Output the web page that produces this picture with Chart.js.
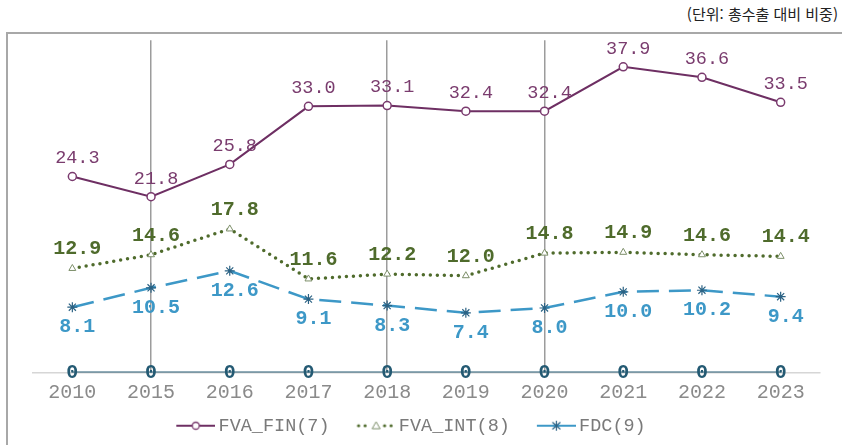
<!DOCTYPE html>
<html lang="ko">
<head>
<meta charset="UTF-8">
<title>FVA 비중</title>
<script src="https://cdn.jsdelivr.net/npm/chart.js"></script>
<style>
  body { margin: 0; width: 842px; height: 445px; background: #fff; position: relative; overflow: hidden; }
  #unit { position: absolute; right: 4px; top: 3px; line-height: 22px; font-family: "Noto Sans CJK KR", sans-serif; font-size: 15px; color: #222; }
  #frame { position: absolute; left: 6px; top: 32px; width: 834px; height: 411px; border-top: 2px solid #a8a8a8; border-left: 2px solid #a8a8a8; }
</style>
</head>
<body>
<div id="unit">(단위: 총수출 대비 비중)</div>
<div id="frame"><canvas id="chart"></canvas></div>
<script>
// 데이터
const years = ['2010', '2015', '2016', '2017', '2018', '2019', '2020', '2021', '2022', '2023'];
const fvaFin = [24.3, 21.8, 25.8, 33.0, 33.1, 32.4, 32.4, 37.9, 36.6, 33.5];
const fvaInt = [12.9, 14.6, 17.8, 11.6, 12.2, 12.0, 14.8, 14.9, 14.6, 14.4];
const fdc = [8.1, 10.5, 12.6, 9.1, 8.3, 7.4, 8.0, 10.0, 10.2, 9.4];
const zeroLine = [0, 0, 0, 0, 0, 0, 0, 0, 0, 0];
const seriesNames = ['FVA_FIN(7)', 'FVA_INT(8)', 'FDC(9)'];
const gridYears = ['2015', '2018', '2020'];

const MONO = '"Liberation Mono", "DejaVu Sans Mono", monospace';

// 범례 아이콘 (선 + 마커)
function makeIcon(kind) {
    const c = document.createElement('canvas');
    c.width = 62; c.height = 14;
    const g = c.getContext('2d');
    const x0 = 23, x1 = 62, cx = 42.5, cy = 7;
    if (kind === 'fin') {
        g.strokeStyle = '#6e2f63'; g.lineWidth = 2;
        g.beginPath(); g.moveTo(x0, cy); g.lineTo(x1, cy); g.stroke();
        g.fillStyle = '#fff'; g.strokeStyle = '#7a3a6e'; g.lineWidth = 1.3;
        g.beginPath(); g.arc(cx, cy, 3.5, 0, Math.PI * 2); g.fill(); g.stroke();
    } else if (kind === 'int') {
        g.fillStyle = '#4f6b2c';
        for (let x = x0 + 2; x < x1; x += 6.5) {
            if (Math.abs(x - cx) < 5) continue;
            g.beginPath(); g.arc(x, cy, 1.6, 0, Math.PI * 2); g.fill();
        }
        g.strokeStyle = '#7d8f6a'; g.lineWidth = 1;
        g.beginPath(); g.moveTo(cx, cy - 4); g.lineTo(cx + 4, cy + 3); g.lineTo(cx - 4, cy + 3); g.closePath(); g.stroke();
    } else {
        g.strokeStyle = '#3d98c7'; g.lineWidth = 2;
        g.beginPath(); g.moveTo(x0, cy); g.lineTo(x1, cy); g.stroke();
        g.strokeStyle = '#2b6284'; g.lineWidth = 1.2;
        g.beginPath();
        g.moveTo(cx, cy - 5); g.lineTo(cx, cy + 5);
        g.moveTo(cx - 4, cy - 3.5); g.lineTo(cx + 4, cy + 3.5);
        g.moveTo(cx + 4, cy - 3.5); g.lineTo(cx - 4, cy + 3.5);
        g.stroke();
    }
    return c;
}
const icons = [makeIcon('fin'), makeIcon('int'), makeIcon('fdc')];

// 값 라벨
const valueLabels = {
    id: 'valueLabels',
    afterDatasetsDraw(chart) {
        const ctx = chart.ctx;
        chart.data.datasets.forEach((ds, i) => {
            const lab = ds.valueLabel;
            const meta = chart.getDatasetMeta(i);
            if (!lab || meta.hidden) return;
            ctx.save();
            ctx.font = lab.font;
            ctx.fillStyle = lab.color;
            ctx.textAlign = 'center';
            ctx.textBaseline = 'middle';
            meta.data.forEach((pt, j) => {
                ctx.fillText(lab.fmt(ds.data[j]), pt.x + lab.dx, pt.y + lab.dy);
            });
            ctx.restore();
        });
    }
};

// 범례 위치 조정
const shiftLegend = {
    id: 'shiftLegend',
    afterLayout(chart) {
        const lg = chart.legend;
        if (!lg) return;
        lg.left -= 24;
        lg.right -= 24;
        lg.top -= 6;
        lg.bottom -= 6;
    }
};

new Chart(document.getElementById('chart'), {
    type: 'line',
    data: {
        labels: years,
        datasets: [{
            label: seriesNames[0],
            data: fvaFin,
            borderColor: '#6e2f63',
            borderWidth: 2,
            pointStyle: 'circle',
            pointRadius: 4,
            pointBackgroundColor: '#fff',
            pointBorderColor: '#7a3a6e',
            pointBorderWidth: 1.5,
            valueLabel: { font: '18.5px ' + MONO, color: '#7a3c6e', dx: 5, dy: -18, fmt: v => v.toFixed(1) }
        }, {
            label: seriesNames[1],
            data: fvaInt,
            borderColor: '#4f6b2c',
            borderWidth: 3.5,
            borderDash: [0, 7],
            borderCapStyle: 'round',
            pointStyle: 'triangle',
            pointRadius: 4,
            pointBackgroundColor: '#fff',
            pointBorderColor: '#7d8f6a',
            pointBorderWidth: 1,
            valueLabel: { font: 'bold 20px ' + MONO, color: '#4f6b2c', dx: 5, dy: -19, fmt: v => v.toFixed(1) }
        }, {
            label: seriesNames[2],
            data: fdc,
            borderColor: '#3d98c7',
            borderWidth: 2.5,
            borderDash: [22, 10],
            pointStyle: 'star',
            pointRadius: 5,
            pointBorderColor: '#2b6284',
            pointBorderWidth: 1.2,
            valueLabel: { font: 'bold 20px ' + MONO, color: '#3d98c7', dx: 5, dy: 20, fmt: v => v.toFixed(1) }
        }, {
            label: 'zero',
            data: zeroLine,
            borderColor: '#245a73',
            borderWidth: 2,
            pointRadius: 0,
            valueLabel: { font: 'bold 20px ' + MONO, color: '#245a73', dx: 0, dy: 0, fmt: v => String(v) }
        }]
    },
    options: {
        responsive: true,
        maintainAspectRatio: false,
        animation: false,
        layout: { padding: { left: 25, right: 22, top: 0, bottom: -6 } },
        elements: { line: { tension: 0 } },
        scales: {
            x: {
                offset: true,
                grid: {
                    offset: false,
                    drawTicks: false,
                    lineWidth: 1.5,
                    color: c => gridYears.includes(years[c.index]) ? '#9c9c9c' : 'rgba(0,0,0,0)'
                },
                border: { color: '#d6d6d6', width: 1.5 },
                ticks: { color: '#8a8a8a', padding: 8, font: { family: MONO, size: 20 } }
            },
            y: { display: false, min: 0, max: 41.2 }
        },
        plugins: {
            tooltip: { enabled: false },
            legend: {
                position: 'bottom',
                labels: {
                    usePointStyle: true,
                    pointStyleWidth: 50,
                    padding: 10,
                    color: '#7a7a7a',
                    font: { family: MONO, size: 18.5 },
                    generateLabels: chart => chart.data.datasets.slice(0, 3).map((ds, i) => ({
                        text: ds.label,
                        pointStyle: icons[i],
                        fontColor: '#7a7a7a',
                        fillStyle: 'transparent',
                        strokeStyle: 'transparent',
                        lineWidth: 0,
                        hidden: false,
                        datasetIndex: i
                    }))
                }
            }
        }
    },
    plugins: [valueLabels, shiftLegend]
});
</script>
</body>
</html>
